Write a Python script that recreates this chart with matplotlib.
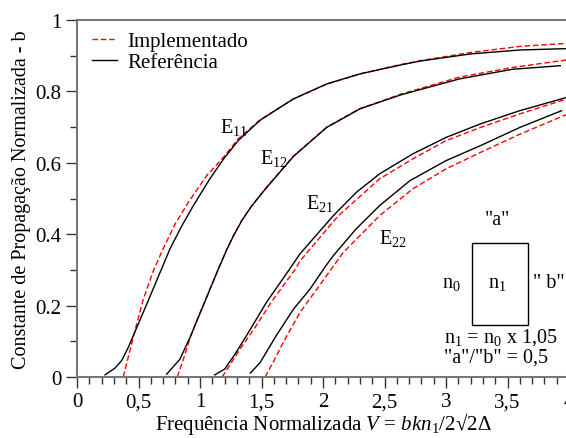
import matplotlib
matplotlib.use("Agg")
import matplotlib.pyplot as plt
from matplotlib.patches import Rectangle
from matplotlib.ticker import MultipleLocator, FixedLocator

# =====================
# Dados
# =====================
e11_ref_v = [0.228, 0.309, 0.363, 0.417, 0.567, 0.756, 0.85, 0.946, 1.08, 1.19, 1.31, 1.488, 1.65, 1.76, 2.03, 2.30, 2.63, 2.79, 3.2, 3.6, 4.0]
e11_ref_b = [0.006, 0.025, 0.046, 0.083, 0.204, 0.359, 0.422, 0.48, 0.555, 0.61, 0.662, 0.719, 0.755, 0.779, 0.821, 0.849, 0.874, 0.885, 0.905, 0.916, 0.92]
e11_imp_v = [0.376, 0.458, 0.539, 0.62, 0.70, 0.80, 0.905, 1.054, 1.19, 1.31, 1.488, 1.76, 2.03, 2.30, 2.63, 2.79, 3.2, 3.6, 4.0]
e11_imp_b = [0.0, 0.112, 0.218, 0.297, 0.359, 0.43, 0.489, 0.564, 0.615, 0.667, 0.72, 0.779, 0.82, 0.849, 0.875, 0.886, 0.909, 0.926, 0.935]

e12_ref_v = [0.729, 0.837, 0.919, 1.054, 1.149, 1.217, 1.27, 1.34, 1.41, 1.488, 1.54, 1.76, 2.03, 2.30, 2.46, 2.63, 2.81, 3.11, 3.54, 3.93]
e12_ref_b = [0.008, 0.05, 0.111, 0.223, 0.302, 0.356, 0.394, 0.438, 0.474, 0.508, 0.53, 0.618, 0.699, 0.751, 0.77, 0.79, 0.807, 0.835, 0.862, 0.872]
e12_imp_v = [0.815, 0.87, 0.92, 0.97, 1.054, 1.149, 1.217, 1.27, 1.34, 1.41, 1.488, 1.54, 1.76, 2.03, 2.30, 2.46, 2.63, 2.81, 3.11, 3.54, 4.0]
e12_imp_b = [0.0, 0.055, 0.11, 0.155, 0.224, 0.303, 0.357, 0.395, 0.439, 0.475, 0.509, 0.531, 0.619, 0.70, 0.752, 0.771, 0.792, 0.81, 0.84, 0.867, 0.889]

e21_ref_v = [1.12, 1.2, 1.285, 1.41, 1.54, 1.73, 1.813, 2.084, 2.27, 2.46, 2.73, 3.0, 3.28, 3.6, 4.0]
e21_ref_b = [0.006, 0.022, 0.064, 0.134, 0.209, 0.303, 0.345, 0.452, 0.517, 0.569, 0.625, 0.671, 0.709, 0.746, 0.785]
e21_imp_v = [1.18, 1.24, 1.325, 1.45, 1.58, 1.77, 1.813, 2.12, 2.46, 2.73, 3.0, 3.28, 3.6, 4.0]
e21_imp_b = [0.0, 0.032, 0.078, 0.14, 0.21, 0.30, 0.325, 0.45, 0.555, 0.611, 0.662, 0.699, 0.737, 0.781]

e22_ref_v = [1.41, 1.49, 1.62, 1.76, 1.894, 2.02, 2.084, 2.27, 2.46, 2.707, 3.0, 3.28, 3.6, 3.94]
e22_ref_b = [0.011, 0.041, 0.116, 0.19, 0.246, 0.31, 0.34, 0.415, 0.48, 0.55, 0.606, 0.648, 0.699, 0.746]
e22_imp_v = [1.53, 1.60, 1.677, 1.813, 1.95, 2.165, 2.355, 2.46, 2.73, 3.0, 3.28, 3.6, 4.0]
e22_imp_b = [0.0, 0.045, 0.097, 0.181, 0.246, 0.349, 0.415, 0.452, 0.527, 0.583, 0.629, 0.68, 0.738]

x_ticks = [0, 0.5, 1, 1.5, 2, 2.5, 3, 3.5, 4]
x_tick_labels = ["0", "0,5", "1", "1,5", "2", "2,5", "3", "3,5", "4"]
y_ticks = [0, 0.2, 0.4, 0.6, 0.8, 1.0]
y_tick_labels = ["0", "0.2", "0.4", "0.6", "0.8", "1"]

# =====================
# Estilo
# =====================
plt.rcParams["font.family"] = ["Liberation Serif", "DejaVu Serif"]
plt.rcParams["mathtext.fontset"] = "custom"
plt.rcParams["mathtext.rm"] = "Liberation Serif"
plt.rcParams["mathtext.it"] = "Liberation Serif:italic"
plt.rcParams["mathtext.default"] = "regular"
fs = 15
fs_txt = 14.5

fig = plt.figure(figsize=(5.66, 4.39), dpi=100)
ax = fig.add_axes([77 / 566, 1 - 378 / 439, 492 / 566, 357 / 439])

red_style = dict(color="red", lw=1.0, ls=(0, (4, 2)))
blk_style = dict(color="black", lw=1.0)

ax.plot(e11_imp_v, e11_imp_b, **red_style, label="Implementado")
ax.plot(e11_ref_v, e11_ref_b, **blk_style, label="Referência")
ax.plot(e12_imp_v, e12_imp_b, **red_style)
ax.plot(e12_ref_v, e12_ref_b, **blk_style)
ax.plot(e21_imp_v, e21_imp_b, **red_style)
ax.plot(e21_ref_v, e21_ref_b, **blk_style)
ax.plot(e22_imp_v, e22_imp_b, **red_style)
ax.plot(e22_ref_v, e22_ref_b, **blk_style)

ax.set_xlim(0, 4)
ax.set_ylim(0, 1)

ax.xaxis.set_major_locator(FixedLocator(x_ticks))
ax.set_xticklabels(x_tick_labels)
ax.xaxis.set_minor_locator(MultipleLocator(0.1))
ax.yaxis.set_major_locator(FixedLocator(y_ticks))
ax.set_yticklabels(y_tick_labels)
ax.yaxis.set_minor_locator(MultipleLocator(0.1))

ax.tick_params(which="both", direction="out", top=False, right=False, labelsize=fs, width=1.0, color="#333333")
ax.tick_params(which="major", length=8, pad=3)
ax.tick_params(which="minor", length=5)

for side in ["left", "bottom", "top"]:
    ax.spines[side].set_color("#777777")
    ax.spines[side].set_linewidth(1.5)
ax.spines["right"].set_visible(False)

ax.set_ylabel("Constante de Propagação Normalizada - b", fontsize=14.5, labelpad=3)
ax.set_xlabel(r"Frequência Normalizada $\mathit{V}$ = $\mathit{bkn_{1}}$/2√2Δ", fontsize=15, labelpad=-1)

ax.legend(loc="upper left", frameon=False, fontsize=fs, handlelength=1.2, handletextpad=0.5,
          borderaxespad=0.0, labelspacing=0.05, bbox_to_anchor=(0.014, 0.99))

# rótulos dos modos
ax.text(1.16, 0.703, r"E$_{11}$", fontsize=fs_txt, va="center")
ax.text(1.49, 0.616, r"E$_{12}$", fontsize=fs_txt, va="center")
ax.text(1.86, 0.49, r"E$_{21}$", fontsize=fs_txt, va="center")
ax.text(2.455, 0.392, r"E$_{22}$", fontsize=fs_txt, va="center")

# guia de onda (inset)
ax.add_patch(Rectangle((3.21, 0.146), 0.46, 0.229, fill=False, ec="black", lw=1.0))
ax.text(3.42, 0.44, '"a"', fontsize=fs_txt, ha="center", va="center")
ax.text(3.045, 0.266, r"n$_0$", fontsize=fs_txt, ha="center", va="center")
ax.text(3.42, 0.266, r"n$_1$", fontsize=fs_txt, ha="center", va="center")
ax.text(3.71, 0.266, '" b"', fontsize=fs_txt, ha="left", va="center")
ax.text(2.98, 0.112, r"n$_1$ = n$_0$ x 1,05", fontsize=fs_txt, ha="left", va="center")
ax.text(2.98, 0.056, '"a"/"b" = 0,5', fontsize=fs_txt, ha="left", va="center")

fig.savefig("out.png", dpi=100)
plt.close()
